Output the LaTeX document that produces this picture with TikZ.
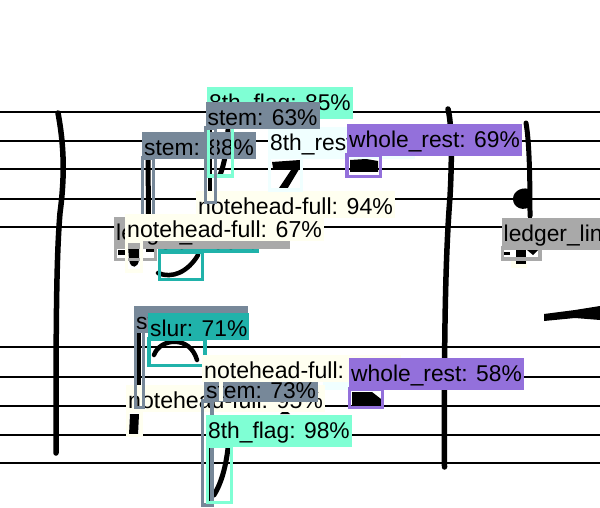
\documentclass[tikz,border=0pt]{standalone}
\usepackage{fontspec}
\setmainfont{Liberation Sans}
\usetikzlibrary{positioning}
\definecolor{flagGreen}{RGB}{127,255,212}
\definecolor{stemGray}{RGB}{119,136,153}
\definecolor{restCyan}{RGB}{240,255,255}
\definecolor{wholePurple}{RGB}{147,112,219}
\definecolor{headIvory}{RGB}{255,255,240}
\definecolor{ledgerGray}{RGB}{169,169,169}
\definecolor{slurTeal}{RGB}{32,178,170}
\tikzset{
    tag/.style={anchor=north west, inner xsep=2pt, inner ysep=3.5pt, text height=20pt,
                text=black, font=\fontsize{22.8}{23}\selectfont},
    flagtag/.style={tag, fill=flagGreen},
    stemtag/.style={tag, fill=stemGray},
    resttag/.style={tag, fill=restCyan},
    wholetag/.style={tag, fill=wholePurple},
    headtag/.style={tag, fill=headIvory, font=\fontsize{23.1}{24}\selectfont},
    ledgertag/.style={tag, fill=ledgerGray},
    slurtag/.style={tag, fill=slurTeal},
    flagbox/.style={draw=flagGreen, line width=3.5pt},
    stembox/.style={draw=stemGray, line width=3.5pt},
    restbox/.style={draw=restCyan, line width=3.5pt},
    wholebox/.style={draw=wholePurple, line width=3.5pt},
    headbox/.style={draw=headIvory, line width=3.5pt},
    ledgerbox/.style={draw=ledgerGray, line width=3.5pt},
    slurbox/.style={draw=slurTeal, line width=3.5pt},
    staffline/.style={draw=black, line width=2pt},
    ink/.style={draw=black, line cap=round, line join=round}
}
\begin{document}
\begin{tikzpicture}[x=1pt,y=-1pt]
  \useasboundingbox (0,0) rectangle (600,508);
  \fill[white] (0,0) rectangle (600,508);

  % staves
  \foreach \ypos in {112.5,141,169.5,199,227,346.5,377,405.5,435,463}
    \draw[staffline] (0,\ypos) -- (600,\ypos);

  % barlines
  \draw[ink, line width=5.5pt] (58,113) .. controls (64,145) and (65,175) .. (60,213)
    .. controls (56,260) and (56,340) .. (56,453);
  \draw[ink, line width=5.5pt] (448,109) .. controls (452,125) and (452,160) .. (450,197)
    .. controls (445,260) and (444,350) .. (444.5,467);
  \draw[ink, line width=5pt] (526,123) .. controls (529,140) and (530,170) .. (530,216);

  % notes and rests under the boxes
  \draw[ink, line width=5pt] (148,158) -- (148.5,214);
  \draw[ink, line width=4pt] (210,129) -- (210,200);
  \draw[ink, line width=5pt] (228,130) .. controls (227,150) and (224,165) .. (220,175);
  \fill (272,162) -- (300,160) -- (301,166) -- (286,191) -- (277,191) -- (291,170) -- (273,168) -- cycle;
  \fill (350,160) -- (366,159) -- (378,161) -- (378,172) -- (350,172) -- cycle;
  \draw[ink, line width=4.5pt] (158,273) .. controls (172,279) and (188,272) .. (198,255);
  \fill (128,246) -- (139,246) -- (139,260) .. controls (138,268) and (131,270) .. (129,260) -- cycle;
  \fill (118,250) rectangle (128,255);
  \fill (146,249) rectangle (156,251.5);
  \fill[black] (513,199) .. controls (513,190) and (524,186) .. (531,190) -- (531,206)
    .. controls (524,212) and (513,208) .. (513,199) -- cycle;
  \fill[headIvory] (511,261) rectangle (527,268);
  \fill (504,252) rectangle (510,255);
  \fill (516,250) rectangle (526,264);
  \fill (527,250) -- (538,250) -- (533,255) -- cycle;
  \fill (544,314) -- (575,310) -- (600,306) -- (600,320) -- (575,318) -- (544,321) -- cycle;

  \draw[ink, line width=4pt] (139,332) -- (139,385);
  \draw[ink, line width=4.5pt] (154,355) .. controls (160,338) and (190,335) .. (197,360);
  \fill (130,414) -- (139,414) -- (138,435) -- (129,435) -- cycle;
  \draw[ink, line width=2.5pt] (209,448) -- (209,503);
  \draw[ink, line width=5pt] (228,448) .. controls (226,465) and (222,482) .. (214,495);
  \fill (352,392) -- (372,392) -- (381,399) -- (381,406) -- (352,406) -- cycle;
  \fill (280,414) .. controls (283,410) and (287,410) .. (290,414) -- cycle;

  % upper staff detections
  \node[slurtag] (slurUpper) at (158,225.5) {slur: 66\%};
  \draw[slurbox] (159.5,252) rectangle (202.5,279.5);
  \node[stemtag] (stemLeft) at (142,132) {stem: 88\%};
  \draw[stembox] (142.5,158) rectangle (153.5,222);
  \node[headtag] (headTop) at (196,190.5) {notehead-full: 94\%};
  \node[ledgertag] (ledgerLeft) at (114,217) {ledger\_line: 60\%};
  \draw[ledgerbox] (115.5,247) rectangle (155.5,259.5);
  \node[flagtag] (flagTop) at (207,87) {8th\_flag: 85\%};
  \draw[flagbox] (208,118) rectangle (232.5,176);
  \node[resttag] (restTop) at (268,127) {8th\_rest: 81\%};
  \draw[restbox] (269.5,157) rectangle (301.5,190);
  \node[stemtag] (stemTop) at (205.5,102) {stem: 63\%};
  \draw[stembox] (205.5,128) rectangle (215.5,202.5);
  \node[wholetag] (wholeTop) at (347,124) {whole\_rest: 69\%};
  \draw[wholebox] (347,155) rectangle (380.5,176.5);
  \node[headtag] (headLeft) at (125,214) {notehead-full: 67\%};
  \draw[headbox] (126.5,241) rectangle (141.5,271);
  \node[ledgertag] (ledgerRight) at (501.5,218) {ledger\_line: 70\%};
  \draw[ledgerbox] (502.5,248) rectangle (540,259);

  % lower staff detections
  \fill[restCyan] (323,382) rectangle (349,390);
  \node[headtag] (headLow) at (126,385) {notehead-full: 95\%};
  \draw[headbox] (127.5,411) rectangle (141,435.5);
  \node[stemtag] (stemLow) at (134,306) {stem: 77\%};
  \draw[stembox] (135.5,331) rectangle (143.5,407.5);
  \node[slurtag] (slurLow) at (148,313) {slur: 71\%};
  \draw[slurbox] (149,339) rectangle (205,365.5);
  \node[stemtag] (stemMid) at (204,374.5) {stem: 73\%};
  \draw[headbox] (221,382) -- (221,401);
  \node[headtag] (headMid) at (202,355) {notehead-full: 72\%};
  \draw[stembox] (202.5,401) rectangle (212,505);
  \node[flagtag] (flagLow) at (206,415) {8th\_flag: 98\%};
  \draw[flagbox] (207.5,446) rectangle (231.5,502.5);
  \node[wholetag] (wholeLow) at (349,358) {whole\_rest: 58\%};
  \draw[wholebox] (349.5,389) rectangle (382.5,407.5);
\end{tikzpicture}
\end{document}
